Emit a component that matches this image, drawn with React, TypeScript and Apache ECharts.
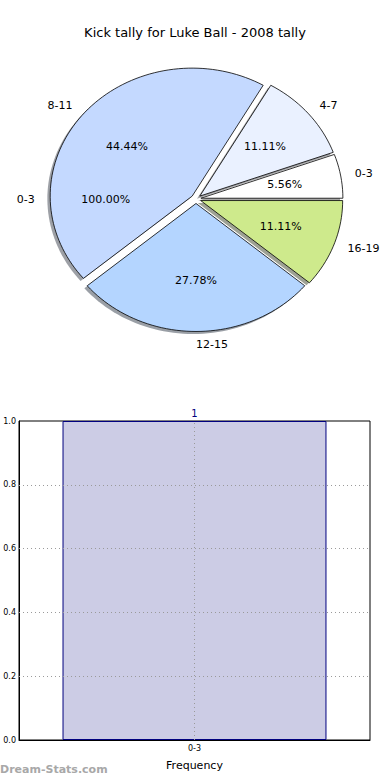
import React, { useEffect, useRef } from 'react';
import * as echarts from 'echarts';

const pieLabels = ['0-3', '4-7', '8-11', '12-15', '16-19'];
const pieValues = [1, 2, 8, 5, 2];
const pieColors = ['#ffffff', '#eaf1ff', '#c4d9ff', '#b4d5ff', '#ceea8c'];
const strayLabels = ['0-3'];
const strayValues = [1];
const barCategories = ['0-3'];
const barValues = [1];
const yTicks = [0, 0.2, 0.4, 0.6, 0.8, 1.0];

const FONT = 'DejaVu Sans, Noto Sans, sans-serif';
const CX = 196;
const CY = 199;
const RX = 142;
const RY = 128;
const EXPLODE = 0.035;

function darken(hex: string, f: number) {
  const n = parseInt(hex.slice(1), 16);
  const r = Math.round(((n >> 16) & 255) * f);
  const g = Math.round(((n >> 8) & 255) * f);
  const b = Math.round((n & 255) * f);
  return `rgba(${r},${g},${b},0.5)`;
}

function wedge(values: number[], i: number, explode: number) {
  const total = values.reduce((a, b) => a + b, 0);
  let start = 0;
  for (let j = 0; j < i; j++) start += values[j];
  const a0 = (start / total) * Math.PI * 2;
  const a1 = ((start + values[i]) / total) * Math.PI * 2;
  const am = (a0 + a1) / 2;
  const cx = CX + explode * RX * Math.cos(am);
  const cy = CY - explode * RY * Math.sin(am);
  const pts: number[][] = [];
  const full = a1 - a0 >= Math.PI * 2 - 1e-9;
  if (!full) pts.push([cx, cy]);
  const N = Math.max(4, Math.ceil(((a1 - a0) / (Math.PI * 2)) * 180));
  for (let k = 0; k <= N; k++) {
    const a = a0 + ((a1 - a0) * k) / N;
    pts.push([cx + RX * Math.cos(a), cy - RY * Math.sin(a)]);
  }
  return { pts, am, cx, cy, pct: (values[i] / total) * 100 };
}

export default function App() {
  const ref = useRef<HTMLDivElement>(null);
  useEffect(() => {
    if (!ref.current) return;
    const chart = echarts.init(ref.current, null, { renderer: 'svg' });
    const option: any = {
      animation: false,
      backgroundColor: '#ffffff',
      title: {
        text: 'Kick tally for Luke Ball - 2008 tally',
        left: 'center',
        top: 21,
        textStyle: { fontFamily: FONT, fontSize: 13, fontWeight: 'normal', color: '#000' },
      },
      graphic: [
        {
          type: 'text',
          left: 0,
          top: 764,
          style: { text: 'Dream-Stats.com', fontFamily: FONT, fontSize: 11, fontWeight: 'bold', fill: '#a8a8a8' },
        },
      ],
      grid: {
        left: 19,
        right: 20,
        top: 421,
        bottom: 40,
        show: true,
        borderColor: '#000',
        borderWidth: 1,
        backgroundColor: 'transparent',
      },
      xAxis: {
        type: 'category',
        data: barCategories,
        name: 'Frequency',
        nameLocation: 'middle',
        nameGap: 20,
        nameTextStyle: { fontFamily: FONT, fontSize: 11, color: '#000' },
        axisLine: { show: true, lineStyle: { color: '#000' } },
        axisTick: { show: false },
        axisLabel: { fontFamily: FONT, fontSize: 8, color: '#000', margin: 4 },
        splitLine: { show: false },
      },
      yAxis: {
        type: 'value',
        min: 0,
        max: 1,
        interval: 0.2,
        axisLine: { show: true, lineStyle: { color: '#000' } },
        axisTick: { show: false },
        axisLabel: {
          fontFamily: FONT,
          fontSize: 8,
          color: '#000',
          margin: 3,
          formatter: (v: number) => v.toFixed(1),
        },
        splitLine: { show: false },
      },
      series: [
        {
          type: 'bar',
          data: barValues,
          barWidth: '75.2%',
          itemStyle: { color: '#ccccE5', borderColor: '#00007f', borderWidth: 1 },
          label: {
            show: true,
            position: 'top',
            distance: 3,
            fontFamily: FONT,
            fontSize: 10,
            color: '#00007f',
          },
          markLine: {
            silent: true,
            symbol: 'none',
            label: { show: false },
            lineStyle: { color: '#9a9a9a', type: [1, 3], width: 1 },
            data: [
              ...yTicks.filter((v) => v > 0 && v < 1).map((v) => ({ yAxis: v })),
              ...barCategories.map((c) => ({ xAxis: c })),
            ],
          },
        },
        {
          type: 'custom',
          coordinateSystem: 'none',
          z: 1,
          silent: true,
          data: pieValues.map((v) => [v]),
          renderItem: (params: any) => {
            const i = params.dataIndex;
            const w = wedge(pieValues, i, EXPLODE);
            const dx = -0.02 * RX;
            const dy = 0.02 * RY;
            return {
              type: 'polygon',
              shape: { points: w.pts.map((p) => [p[0] + dx, p[1] + dy]) },
              style: { fill: darken(pieColors[i], 0.3) },
            };
          },
        },
        {
          type: 'custom',
          coordinateSystem: 'none',
          z: 2,
          silent: true,
          data: pieValues.map((v) => [v]),
          renderItem: (params: any) => {
            const i = params.dataIndex;
            const w = wedge(pieValues, i, EXPLODE);
            const c = Math.cos(w.am);
            const s = Math.sin(w.am);
            return {
              type: 'group',
              children: [
                {
                  type: 'polygon',
                  shape: { points: w.pts },
                  style: { fill: pieColors[i], stroke: '#000', lineWidth: 0.8, lineJoin: 'miter' },
                },
                {
                  type: 'text',
                  x: w.cx + 1.1 * RX * c,
                  y: w.cy - 1.1 * RY * s,
                  style: {
                    text: pieLabels[i],
                    fontFamily: FONT,
                    fontSize: 11,
                    fill: '#000',
                    align: c > -1e-6 ? 'left' : 'right',
                    verticalAlign: 'middle',
                  },
                },
                {
                  type: 'text',
                  x: w.cx + 0.6 * RX * c,
                  y: w.cy - 0.6 * RY * s,
                  style: {
                    text: w.pct.toFixed(2) + '%',
                    fontFamily: FONT,
                    fontSize: 11,
                    fill: '#000',
                    align: 'center',
                    verticalAlign: 'middle',
                  },
                },
              ],
            };
          },
        },
        {
          type: 'custom',
          coordinateSystem: 'none',
          z: 3,
          silent: true,
          data: strayValues.map((v) => [v]),
          renderItem: (params: any) => {
            const i = params.dataIndex;
            const w = wedge(strayValues, i, EXPLODE);
            const am = Math.PI;
            const cx = CX + EXPLODE * RX * Math.cos(am);
            const cy = CY - EXPLODE * RY * Math.sin(am);
            return {
              type: 'group',
              children: [
                {
                  type: 'text',
                  x: cx + 1.1 * RX * Math.cos(am),
                  y: cy - 1.1 * RY * Math.sin(am),
                  style: {
                    text: strayLabels[i],
                    fontFamily: FONT,
                    fontSize: 11,
                    fill: '#000',
                    align: 'right',
                    verticalAlign: 'middle',
                  },
                },
                {
                  type: 'text',
                  x: cx + 0.6 * RX * Math.cos(am),
                  y: cy - 0.6 * RY * Math.sin(am),
                  style: {
                    text: w.pct.toFixed(2) + '%',
                    fontFamily: FONT,
                    fontSize: 11,
                    fill: '#000',
                    align: 'center',
                    verticalAlign: 'middle',
                  },
                },
              ],
            };
          },
        },
      ],
    };
    chart.setOption(option);
    return () => chart.dispose();
  }, []);
  return (
    <div
      ref={ref}
      style={{ position: 'absolute', left: 0, top: 0, width: 390, height: 780 }}
    />
  );
}
